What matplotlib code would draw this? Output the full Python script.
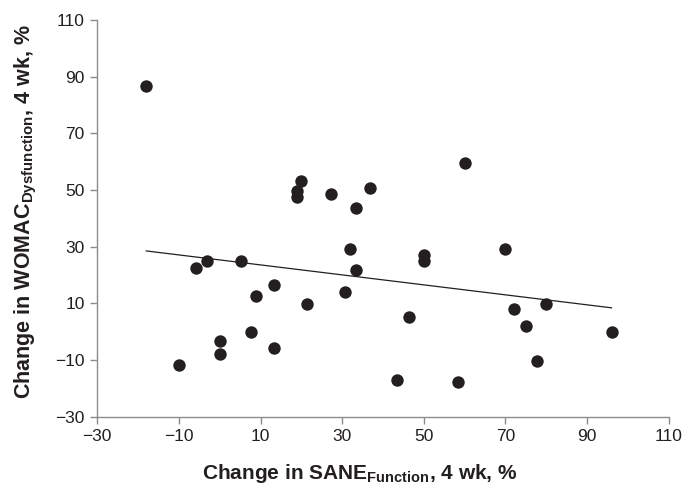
import numpy as np
import matplotlib
matplotlib.use("Agg")
import matplotlib.pyplot as plt

plt.rcParams['font.family'] = ['Liberation Sans', 'DejaVu Sans']
plt.rcParams['mathtext.fontset'] = 'custom'
plt.rcParams['mathtext.rm'] = 'Liberation Sans'
plt.rcParams['mathtext.bf'] = 'Liberation Sans:bold'
plt.rcParams['mathtext.it'] = 'Liberation Sans:italic'

sane_change = [-18.0, 20.0, 19.0, 19.0, 27.3, 33.3, 36.7, 60.0,
               32.0, 33.3, 30.8, 21.5, -3.0, -5.7, 5.2, 13.3, 8.8, 7.7,
               0.0, 0.0, 13.3, -10.0,
               50.0, 50.0, 70.0, 46.3, 72.0, 80.0, 75.0, 96.0, 77.8, 43.4, 58.4]
womac_change = [86.8, 53.3, 49.8, 47.7, 48.6, 43.8, 50.7, 59.4,
                29.1, 21.7, 13.9, 9.8, 25.0, 22.4, 25.0, 16.6, 12.5, 0.0,
                -3.2, -7.8, -5.9, -11.6,
                27.1, 25.0, 29.1, 5.2, 8.1, 9.9, 2.0, 0.0, -10.3, -17.1, -17.9]
x_ticks = [-30, -10, 10, 30, 50, 70, 90, 110]
y_ticks = [-30, -10, 10, 30, 50, 70, 90, 110]

fig = plt.figure(figsize=(6.97, 4.88), dpi=100)
ax = fig.add_axes([0.1396, 0.1461, 0.8198, 0.8129])

x = np.array(sane_change)
y = np.array(womac_change)
ax.scatter(x, y, s=80, color='#231f20', zorder=3, linewidths=0)

slope, intercept = np.polyfit(x, y, 1)
xl = np.array([x.min(), x.max()])
ax.plot(xl, slope * xl + intercept, color='#231f20', lw=0.9, zorder=2)

ax.set_xlim(-30, 110)
ax.set_ylim(-30, 110)
ax.set_xticks(x_ticks)
ax.set_yticks(y_ticks)
for s in ['top', 'right']:
    ax.spines[s].set_visible(False)
for s in ['left', 'bottom']:
    ax.spines[s].set_color('#8c8c8c')
    ax.spines[s].set_linewidth(1.0)
ax.tick_params(axis='both', direction='out', length=5, width=1.0, color='#8c8c8c',
               labelsize=12.5, labelcolor='#231f20', pad=4)

ax.set_xlabel(r'Change in SANE$_{\mathbf{Function}}$, 4 wk, %', fontsize=15,
              fontweight='bold', color='#231f20', labelpad=13)
ax.set_ylabel(r'Change in WOMAC$_{\mathbf{Dysfunction}}$, 4 wk, %', fontsize=15.5,
              fontweight='bold', color='#231f20', labelpad=12)
ax.xaxis.label.set_x(0.459)
ax.yaxis.label.set_y(0.517)

fig.savefig('out.png', dpi=100)
